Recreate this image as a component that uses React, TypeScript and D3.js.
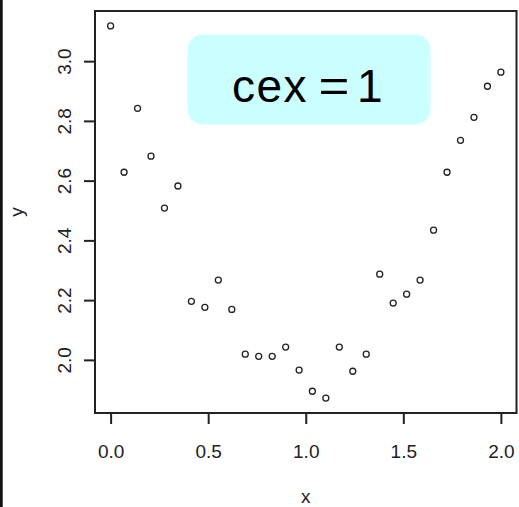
// Scatter of y against x, R base-graphics look, with a "cex=1" label box
import React, { useEffect, useRef } from 'react';
import * as d3 from 'd3';

const xValues = [0, 0.069, 0.138, 0.207, 0.276, 0.345, 0.414, 0.483, 0.552, 0.621,
  0.69, 0.759, 0.828, 0.897, 0.966, 1.034, 1.103, 1.172, 1.241, 1.31,
  1.379, 1.448, 1.517, 1.586, 1.655, 1.724, 1.793, 1.862, 1.931, 2.0];
const yValues = [3.118, 2.628, 2.842, 2.682, 2.508, 2.582, 2.196, 2.176, 2.267, 2.169,
  2.019, 2.012, 2.012, 2.043, 1.966, 1.895, 1.872, 2.043, 1.962, 2.019,
  2.287, 2.19, 2.22, 2.267, 2.434, 2.628, 2.735, 2.812, 2.916, 2.963];
const xTicks = [0, 0.5, 1, 1.5, 2];
const yTicks = [2.0, 2.2, 2.4, 2.6, 2.8, 3.0];
const labelText = ['cex', '=', '1'];

const W = 519, H = 507;
const box = { left: 95, right: 516.5, top: 11, bottom: 413 };
const font = '"Liberation Sans", Arial, sans-serif';
const ink = '#222';

// R pads the data range by 4% on each side
function padded(v: number[]) {
  const [lo, hi] = d3.extent(v) as [number, number];
  const d = (hi - lo) * 0.04;
  return [lo - d, hi + d];
}

export default function App() {
  const ref = useRef<SVGSVGElement>(null);

  useEffect(() => {
    const svg = d3.select(ref.current);
    svg.selectAll('*').remove();

    const x = d3.scaleLinear().domain(padded(xValues)).range([box.left, box.right]);
    const y = d3.scaleLinear().domain(padded(yValues)).range([box.bottom, box.top]);

    svg.append('rect').attr('width', W).attr('height', H).attr('fill', '#fff');
    // black strip on the left edge of the screenshot
    svg.append('rect').attr('x', 0).attr('y', 0).attr('width', 2.7).attr('height', H).attr('fill', '#111');

    // label box
    svg.append('rect')
      .attr('x', 187.5).attr('y', 34.5).attr('width', 243).attr('height', 90)
      .attr('rx', 15).attr('fill', '#ccffff');
    const lab = svg.append('g').attr('font-family', font).attr('font-size', 46).attr('fill', '#000');
    lab.append('text').attr('x', 232).attr('y', 102).attr('letter-spacing', 1.5).text(labelText[0]);
    lab.append('text').attr('x', 334).attr('y', 102).attr('text-anchor', 'middle')
      .attr('transform', 'translate(334,0) scale(1.15,1) translate(-334,0)').text(labelText[1]);
    lab.append('text').attr('x', 357).attr('y', 102).text(labelText[2]);

    // points
    svg.append('g').selectAll('circle')
      .data(xValues.map((v, i) => [v, yValues[i]]))
      .join('circle')
      .attr('cx', d => x(d[0])).attr('cy', d => y(d[1]))
      .attr('r', 3).attr('fill', 'none').attr('stroke', ink).attr('stroke-width', 1.3);

    // frame
    svg.append('rect')
      .attr('x', box.left).attr('y', box.top)
      .attr('width', box.right - box.left).attr('height', box.bottom - box.top)
      .attr('fill', 'none').attr('stroke', ink).attr('stroke-width', 2);

    const xAxis = d3.axisBottom(x).tickValues(xTicks).tickSize(11).tickSizeOuter(0)
      .tickFormat(d3.format('.1f'));
    const gx = svg.append('g').attr('transform', `translate(0,${box.bottom})`).call(xAxis);
    gx.select('.domain').remove();
    gx.selectAll('line').attr('stroke', ink).attr('stroke-width', 2);
    gx.selectAll('text').attr('font-family', font).attr('font-size', 19).attr('fill', ink)
      .attr('dy', null).attr('y', 45);

    const yAxis = d3.axisLeft(y).tickValues(yTicks).tickSize(11).tickSizeOuter(0)
      .tickFormat(d3.format('.1f'));
    const gy = svg.append('g').attr('transform', `translate(${box.left},0)`).call(yAxis);
    gy.select('.domain').remove();
    gy.selectAll('line').attr('stroke', ink).attr('stroke-width', 2);
    gy.selectAll('text').attr('font-family', font).attr('font-size', 19).attr('fill', ink)
      .attr('x', null).attr('dy', null).attr('text-anchor', 'middle')
      .attr('transform', `translate(${71 - box.left},0) rotate(-90)`);

    svg.append('text').attr('x', (box.left + box.right) / 2).attr('y', 503)
      .attr('text-anchor', 'middle').attr('font-family', font).attr('font-size', 19).attr('fill', ink)
      .text('x');
    svg.append('text').attr('transform', `translate(23,${(box.top + box.bottom) / 2}) rotate(-90)`)
      .attr('text-anchor', 'middle').attr('font-family', font).attr('font-size', 19).attr('fill', ink)
      .text('y');
  }, []);

  return (
    <svg ref={ref} width={W} height={H} style={{ position: 'absolute', left: 0, top: 0 }} />
  );
}
